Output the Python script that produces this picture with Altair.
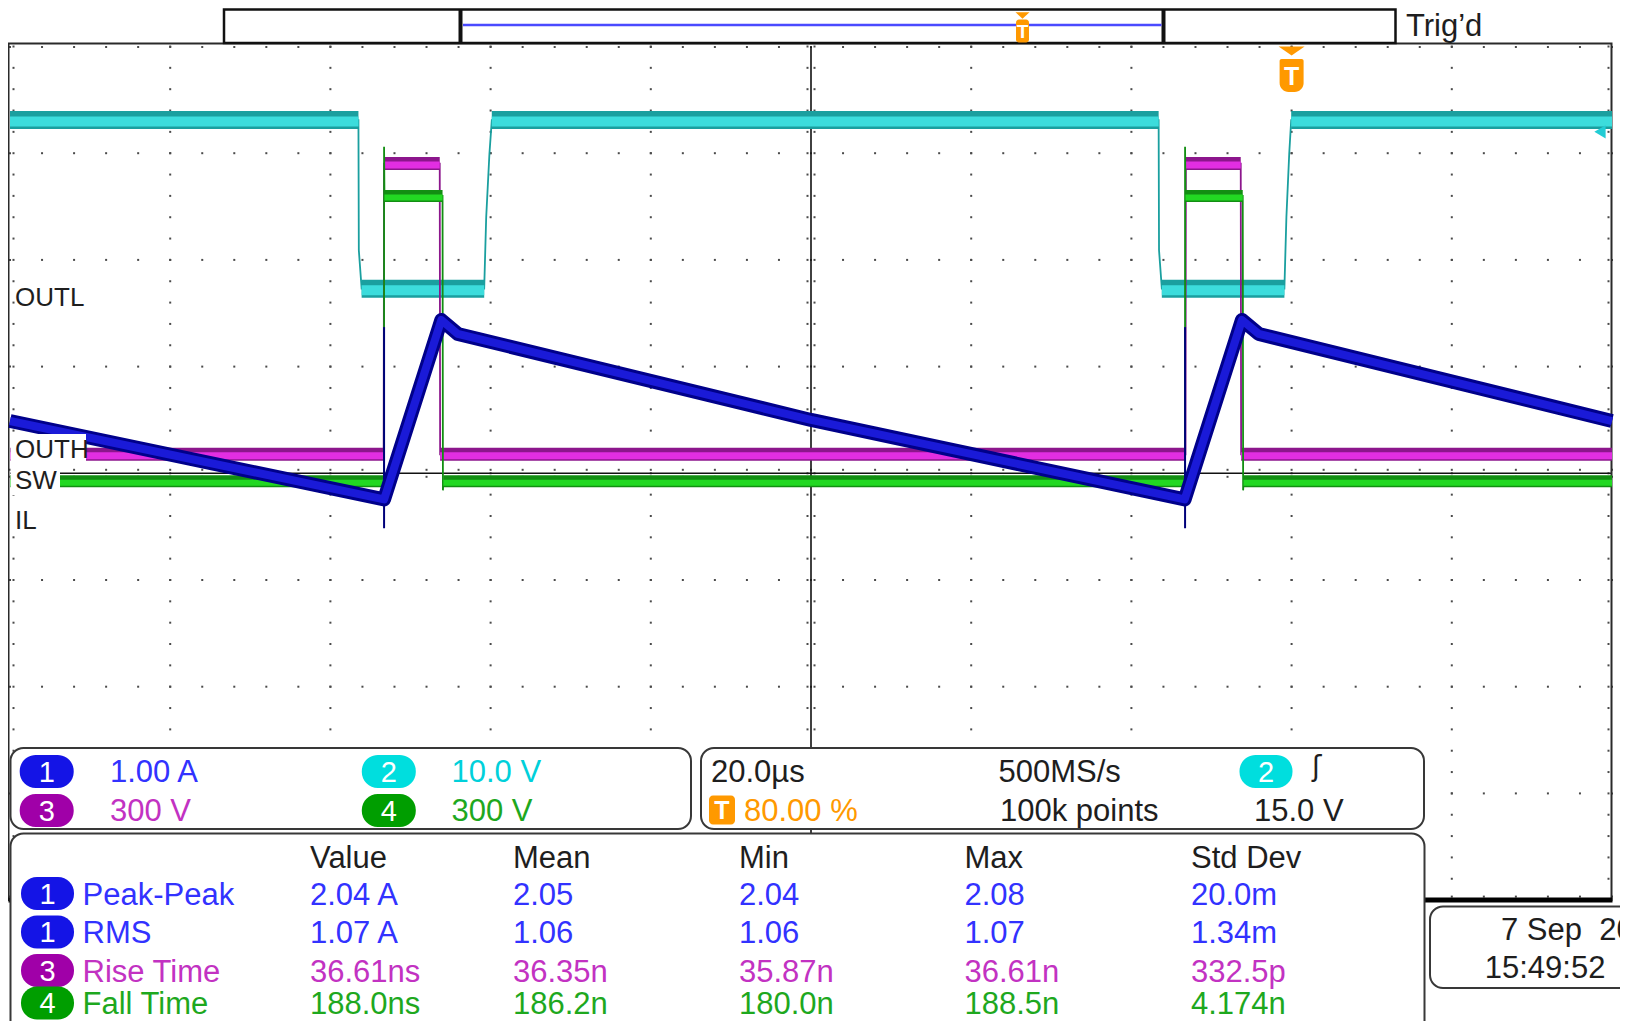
import altair as alt
import pandas as pd

# ---------------- values read from the screen ----------------
# time in µs relative to the trigger, vertical position in screen divisions (0 = centre line)
CYAN_T = [-160.0, -116.5, -116.45, -116.1, -100.8, -100.55, -100.15, -99.85,
          -16.6, -16.55, -16.2, -0.9, -0.65, -0.3, -0.05, 40.0]
CYAN_V = [3.31, 3.31, 2.09, 1.73, 1.73, 2.40, 2.99, 3.31,
          3.31, 2.09, 1.73, 1.73, 2.40, 2.99, 3.31, 3.31]

MAG_T = [-160.0, -113.35, -113.3, -106.35, -106.3, -13.25, -13.2, -6.35, -6.3, 40.0]
MAG_V = [0.178, 0.178, 2.903, 2.903, 0.178, 0.178, 2.903, 2.903, 0.178, 0.178]

GRN_T = [-160.0, -113.3, -113.3, -113.25, -106.0, -105.95, -105.9,
         -13.3, -13.3, -13.25, -6.1, -6.05, -6.0, 40.0]
GRN_V = [-0.075, -0.075, 3.06, 2.60, 2.60, -0.16, -0.075,
         -0.075, 3.06, 2.60, 2.60, -0.16, -0.075, -0.075]

BLUE_T = [-160.0, -113.3, -106.15, -104.1, -60.0, -13.35, -6.2, -4.1, 40.0]
BLUE_V = [0.49, -0.245, 1.437, 1.306, 0.50, -0.245, 1.437, 1.306, 0.49]
BLUE_SPIKE_T = [-113.3, -13.3]
BLUE_SPIKE_TOP = [1.37, 1.37]
BLUE_SPIKE_BOTTOM = [-0.515, -0.515]

TRIG_LEVEL_V = 3.20
TRIG_T = 0.0

TRACE_LABELS = ["OUTL", "OUTH", "SW", "IL"]
TRACE_LABEL_V = [1.656, 0.232, -0.063, -0.43]

CH_BADGES = ["1", "3", "2", "4"]
CH_SCALES = ["1.00 A", "300 V", "10.0 V", "300 V"]

TIMEBASE = "20.0µs"
TRIG_POS = "80.00 %"
SAMPLE_RATE = "500MS/s"
RECORD = "100k points"
TRIG_SRC = "2"
TRIG_SLOPE = "ʃ"
TRIG_LEVEL = "15.0 V"
DATE = "7 Sep\u00a0\u00a0201"
TIME = "15:49:52"
STATUS = "Trig’d"

MEAS_HEAD = ["Value", "Mean", "Min", "Max", "Std Dev"]
MEAS_CH = ["1", "1", "3", "4"]
MEAS_NAME = ["Peak-Peak", "RMS", "Rise Time", "Fall Time"]
MEAS_VALUE = ["2.04 A", "1.07 A", "36.61ns", "188.0ns"]
MEAS_MEAN = ["2.05", "1.06", "36.35n", "186.2n"]
MEAS_MIN = ["2.04", "1.06", "35.87n", "180.0n"]
MEAS_MAX = ["2.08", "1.07", "36.61n", "188.5n"]
MEAS_STD = ["20.0m", "1.34m", "332.5p", "4.174n"]

# ---------------- screen geometry ----------------
W, H = 1612, 1013
VIEW_X0, VIEW_Y0 = 5.0, 8.0
PX_T0, PX_PER_DIV_X, US_PER_DIV, T_LEFT, T_RIGHT = 7.0, 160.2, 20.0, -160.0, 40.0
PX_V0, PX_PER_DIV_Y = 473.3, 106.7


def T(px):
    return T_LEFT + (px - PX_T0) / PX_PER_DIV_X * US_PER_DIV


def V(py):
    return (PX_V0 - py) / PX_PER_DIV_Y


def PXT(dpx):
    return dpx / PX_PER_DIV_X * US_PER_DIV


def PXV(dpx):
    return dpx / PX_PER_DIV_Y


XS = alt.Scale(domain=[T(VIEW_X0), T(VIEW_X0 + W)], nice=False, zero=False)
YS = alt.Scale(domain=[V(VIEW_Y0 + H), V(VIEW_Y0)], nice=False, zero=False)


def X(f="t"):
    return alt.X(f"{f}:Q", scale=XS, axis=None)


def Y(f="v"):
    return alt.Y(f"{f}:Q", scale=YS, axis=None)


FONT = "Liberation Sans"
LABEL_SIZE = 26
TEXT_SIZE = 31

C_BLUE_T, C_MAG_T, C_CYAN_T, C_GRN_T = "#3232ff", "#c232c2", "#00d0da", "#1ea81e"
C_ORANGE, C_BLACK = "#ff9900", "#1e1e1e"
B_FILL = {"1": "#1414e6", "2": "#00dede", "3": "#a000a8", "4": "#009e00"}
TXT_COL = {"1": C_BLUE_T, "2": C_CYAN_T, "3": C_MAG_T, "4": C_GRN_T}

layers = []

# ---------------- graticule ----------------
minor_t = [T_LEFT + 4 * k for k in range(51)]
minor_v = [-4 + 0.2 * k for k in range(41)]
dots = []
for k in range(1, 10):
    if k == 5:
        continue
    for vv in minor_v:
        dots.append((T_LEFT + 20 * k, vv))
for j in range(-3, 4):
    if j == 0:
        continue
    for tt in minor_t:
        dots.append((tt, j))
for tt in minor_t:
    dots += [(tt, 4 - PXV(0.5)), (tt, -4 + PXV(3.5)), (tt, PXV(3.5)), (tt, -PXV(3.5))]
for vv in minor_v:
    dots += [(T_LEFT + PXT(3.5), vv), (T_RIGHT - PXT(3.5), vv), (-60 - PXT(3.5), vv), (-60 + PXT(3.5), vv)]
dots_df = pd.DataFrame(dots, columns=["t", "v"])
layers.append(alt.Chart(dots_df).mark_square(size=4, color="#4a4a4a", opacity=1).encode(x=X(), y=Y()))

centre_h = pd.DataFrame({"t": [T_LEFT], "t2": [T_RIGHT], "v": [0.0]})
centre_v = pd.DataFrame({"t": [-60.0], "v": [-4.0], "v2": [4.0]})
layers.append(alt.Chart(centre_h).mark_rule(color="#111111", strokeWidth=1.6).encode(x=X(), x2=alt.X2("t2:Q"), y=Y()))
layers.append(alt.Chart(centre_v).mark_rule(color="#111111", strokeWidth=1.6).encode(x=X(), y=Y(), y2=alt.Y2("v2:Q")))

frame = pd.DataFrame({"t": [T(5.5)], "t2": [T(1608.5)], "v": [-4.0], "v2": [V(43.5)]})
layers.append(alt.Chart(frame).mark_rect(fillOpacity=0, stroke="#2a2a2a", strokeWidth=2).encode(
    x=X(), x2=alt.X2("t2:Q"), y=Y(), y2=alt.Y2("v2:Q")))
bottom = pd.DataFrame({"t": [T(5.5)], "t2": [T(1609.5)], "v": [-4.0]})
layers.append(alt.Chart(bottom).mark_rule(color="#000000", strokeWidth=5).encode(x=X(), x2=alt.X2("t2:Q"), y=Y()))


# ---------------- traces ----------------
def flat_segments(ts, vs):
    rows = []
    for i in range(len(ts) - 1):
        if vs[i] == vs[i + 1] and ts[i + 1] > ts[i]:
            rows.append({"t": ts[i], "t2": ts[i + 1], "v": vs[i]})
    return pd.DataFrame(rows)


def step_trace(ts, vs, dark, bright, w_out, w_in, off):
    seg = flat_segments(ts, vs)
    pts = pd.DataFrame({"t": ts, "v": vs, "i": list(range(len(ts)))})
    edge = alt.Chart(pts).mark_line(color=dark, strokeWidth=1.8).encode(x=X(), y=Y(), order="i:Q")
    band_o = alt.Chart(seg).mark_rule(color=dark, strokeWidth=w_out).encode(x=X(), x2=alt.X2("t2:Q"), y=Y())
    band_i = alt.Chart(seg).mark_rule(color=bright, strokeWidth=w_in, yOffset=off).encode(
        x=X(), x2=alt.X2("t2:Q"), y=Y())
    return [edge, band_o, band_i]


layers += step_trace(CYAN_T, CYAN_V, "#1a9f9f", "#3cdcdc", 18, 10, 1.5)
layers += step_trace(MAG_T, MAG_V, "#8c168c", "#e22ee2", 13, 7, 1.5)
layers += step_trace(GRN_T, GRN_V, "#128e12", "#22d822", 12, 6, 1.5)

blue_df = pd.DataFrame({"t": BLUE_T, "v": BLUE_V, "i": list(range(len(BLUE_T)))})
spike_df = pd.DataFrame({"t": BLUE_SPIKE_T, "v": BLUE_SPIKE_BOTTOM, "v2": BLUE_SPIKE_TOP})
layers.append(alt.Chart(spike_df).mark_rule(color="#00007a", strokeWidth=2).encode(x=X(), y=Y(), y2=alt.Y2("v2:Q")))
layers.append(alt.Chart(blue_df).mark_line(color="#00008a", strokeWidth=14, strokeJoin="round").encode(
    x=X(), y=Y(), order="i:Q"))
layers.append(alt.Chart(blue_df).mark_line(color="#1a1ad8", strokeWidth=8, strokeJoin="round").encode(
    x=X(), y=Y(), order="i:Q"))

# trigger level arrow at right edge
trig_lvl = pd.DataFrame({"t": [T(1597)], "v": [TRIG_LEVEL_V]})
layers.append(alt.Chart(trig_lvl).mark_point(shape="triangle-left", filled=True, size=170, color="#22ccd4",
                                             opacity=1).encode(x=X(), y=Y()))


# ---------------- helpers for boxes and text ----------------
def box(x0, y0, x1, y1, color="white"):
    return (T(x0), T(x1), V(y1), V(y0), color)


def rect_layer(rows, **mark):
    df = pd.DataFrame(rows, columns=["t", "t2", "v", "v2", "color"])
    return alt.Chart(df).mark_rect(**mark).encode(
        x=X(), x2=alt.X2("t2:Q"), y=Y(), y2=alt.Y2("v2:Q"), fill=alt.Fill("color:N", scale=None))


def text_layer(rows, font=FONT, size=TEXT_SIZE, align="left", weight="normal"):
    df = pd.DataFrame(rows, columns=["t", "v", "text", "color"])
    return alt.Chart(df).mark_text(font=font, fontSize=size, align=align, baseline="alphabetic",
                                   fontWeight=weight).encode(
        x=X(), y=Y(), text="text:N", color=alt.Color("color:N", scale=None))


# ---------------- trace labels ----------------
lab_bg = [box(7.5, 434, 83, 464), box(7.5, 467, 57, 495), box(7.5, 506, 34, 532)]
layers.append(rect_layer(lab_bg, strokeWidth=0))
lab_rows = [(T(12.0), v - PXV(0.3645 * LABEL_SIZE), s, C_BLACK) for s, v in zip(TRACE_LABELS, TRACE_LABEL_V)]
layers.append(text_layer(lab_rows, size=LABEL_SIZE))

# ---------------- info boxes ----------------
boxes = [box(7.5, 748, 688, 829), box(698, 748, 1421, 829), box(7.5, 833.5, 1421.5, 1034),
         box(1427, 906.5, 1690, 988)]
layers.append(rect_layer(boxes, stroke="#383838", strokeWidth=2, cornerRadius=13))

MEAS_SHIFT = 5.0
badges = []
badge_txt = []
ch_pos = [(43.7, 771.5), (43.7, 810.5), (385.8, 771.5), (385.8, 810.5)]
for b, (cx, cy) in zip(CH_BADGES, ch_pos):
    badges.append(box(cx - 27, cy - 16.5, cx + 27, cy + 16.5, B_FILL[b]))
    badge_txt.append((T(cx), V(cy + 10.5), b, "white"))
meas_y = [888.5 + MEAS_SHIFT, 927.0 + MEAS_SHIFT, 965.5 + MEAS_SHIFT, 998.0 + MEAS_SHIFT]
for b, cy in zip(MEAS_CH, meas_y):
    badges.append(box(44.5 - 26.5, cy - 16.5, 44.5 + 26.5, cy + 16.5, B_FILL[b]))
    badge_txt.append((T(44.5), V(cy + 10.0), b, "white"))
badges.append(box(1263 - 26.5, 771.5 - 16.5, 1263 + 26.5, 771.5 + 16.5, B_FILL[TRIG_SRC]))
badge_txt.append((T(1263), V(771.5 + 10.5), TRIG_SRC, "white"))
layers.append(rect_layer(badges, strokeWidth=0, cornerRadius=16))
layers.append(text_layer(badge_txt, size=29, align="center"))

# orange T badge in timebase box
layers.append(rect_layer([box(706, 795.5, 732, 824.5, C_ORANGE)], strokeWidth=0, cornerRadius=4))

txt = []
ch_text_pos = [(107, 781.5), (107, 820.5), (448.5, 781.5), (448.5, 820.5)]
for b, s, (x, y) in zip(CH_BADGES, CH_SCALES, ch_text_pos):
    txt.append((T(x), V(y), s, TXT_COL[b]))
txt += [
    (T(708), V(781.5), TIMEBASE, C_BLACK),
    (T(741), V(820.5), TRIG_POS, C_ORANGE),
    (T(995.5), V(781.5), SAMPLE_RATE, C_BLACK),
    (T(997), V(820.5), RECORD, C_BLACK),
    (T(1251), V(820.5), TRIG_LEVEL, C_BLACK),
    (T(1403), V(35.5), STATUS, C_BLACK),
    (T(1498), V(940), DATE, C_BLACK),
    (T(1481.7), V(978.3), TIME, C_BLACK),
]
col_x = [307, 510, 736, 961.5, 1188]
for x, h in zip(col_x, MEAS_HEAD):
    txt.append((T(x), V(862.7 + MEAS_SHIFT), h, C_BLACK))
row_base = [900.0, 938.3, 976.7, 1009.0]
for i, yb in enumerate(row_base):
    c = TXT_COL[MEAS_CH[i]]
    txt.append((T(79.5), V(yb + MEAS_SHIFT), MEAS_NAME[i], c))
    for x, col in zip(col_x, [MEAS_VALUE, MEAS_MEAN, MEAS_MIN, MEAS_MAX, MEAS_STD]):
        txt.append((T(x), V(yb + MEAS_SHIFT), col[i], c))
layers.append(text_layer(txt))
layers.append(text_layer([(T(1309), V(776), TRIG_SLOPE, C_BLACK)], font="DejaVu Sans", size=28))

# ---------------- record view bar at top ----------------
layers.append(rect_layer([box(221, 9.5, 1392.5, 43)], stroke="#111111", strokeWidth=2.5))
divs = pd.DataFrame({"t": [T(457.5), T(1160.5)], "v": [V(43), V(43)], "v2": [V(9.5), V(9.5)]})
layers.append(alt.Chart(divs).mark_rule(color="#111111", strokeWidth=4).encode(x=X(), y=Y(), y2=alt.Y2("v2:Q")))
win = pd.DataFrame({"t": [T(460)], "t2": [T(1158.5)], "v": [V(25)]})
layers.append(alt.Chart(win).mark_rule(color="#4a4aff", strokeWidth=2.5).encode(x=X(), x2=alt.X2("t2:Q"), y=Y()))

# ---------------- trigger position markers ----------------
FLAT_TRI = "M-1,-0.45L1,-0.45L0,0.45Z"
small_tri = pd.DataFrame({"t": [T(1019.5)], "v": [V(15.5)]})
layers.append(alt.Chart(small_tri).mark_point(shape=FLAT_TRI, filled=True, size=196, color=C_ORANGE,
                                              opacity=1).encode(x=X(), y=Y()))
big_tri = pd.DataFrame({"t": [TRIG_T], "v": [V(51)]})
layers.append(alt.Chart(big_tri).mark_point(shape="M-1,-0.35L1,-0.35L0,0.35Z", filled=True, size=676,
                                            color=C_ORANGE, opacity=1).encode(x=X(), y=Y()))
layers.append(rect_layer([box(1013, 19.5, 1026, 42.5, C_ORANGE)], strokeWidth=0, cornerRadius=3))
big_rect = pd.DataFrame({"t": [TRIG_T - PXT(12)], "t2": [TRIG_T + PXT(12)], "v": [V(92)], "v2": [V(59)],
                         "color": [C_ORANGE]})
layers.append(alt.Chart(big_rect).mark_rect(strokeWidth=0, cornerRadiusBottomLeft=9, cornerRadiusBottomRight=9,
                                            cornerRadiusTopLeft=2, cornerRadiusTopRight=2).encode(
    x=X(), x2=alt.X2("t2:Q"), y=Y(), y2=alt.Y2("v2:Q"), fill=alt.Fill("color:N", scale=None)))
t_glyphs = [(T(1019.5), V(38), "T", "white"), (TRIG_T, V(84.5), "T", "white"), (T(719), V(818.5), "T", "white")]
layers.append(text_layer(t_glyphs[:1], size=19, align="center", weight="bold"))
layers.append(text_layer(t_glyphs[1:], size=25, align="center", weight="bold"))

chart = alt.layer(*layers).properties(width=W, height=H, padding=0,
                                      autosize=alt.AutoSizeParams(type="none"))
chart = chart.configure(background="white").configure_view(stroke=None)
chart.save("out.html", embed_options={"renderer": "svg", "actions": False})
